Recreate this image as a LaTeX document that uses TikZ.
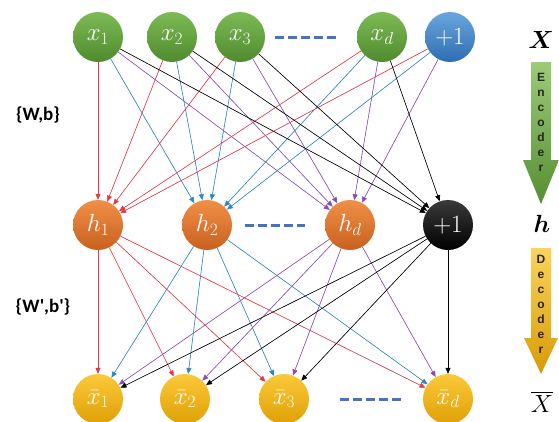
\documentclass[tikz,border=0pt]{standalone}
\usepackage{fontspec}
\usepackage{amsmath,bm}
\usepackage{tikz}
\usetikzlibrary{arrows.meta,positioning}
\newfontfamily\calibrifont{Carlito}
\newfontfamily\arialfont{Liberation Sans}
\definecolor{aered}{HTML}{E23A4A}
\definecolor{aeblue}{HTML}{2F86C4}
\definecolor{aepurple}{HTML}{8A4DB8}
\definecolor{aedash}{HTML}{4472C4}
\definecolor{aegreentop}{HTML}{7DBB55}
\definecolor{aegreenbot}{HTML}{4F8A2E}
\definecolor{aebluetop}{HTML}{6AA6DE}
\definecolor{aebluebot}{HTML}{2E6DB0}
\definecolor{aeorangetop}{HTML}{F09048}
\definecolor{aeorangebot}{HTML}{C8601E}
\definecolor{aeyellowtop}{HTML}{FBC93A}
\definecolor{aeyellowbot}{HTML}{DFA005}
\definecolor{aeblacktop}{HTML}{3A3A3A}
\definecolor{aeblackbot}{HTML}{000000}
\definecolor{aeenctop}{HTML}{9CCB78}
\definecolor{aeencbot}{HTML}{558E33}
\definecolor{aedectop}{HTML}{FBD45A}
\definecolor{aedecbot}{HTML}{D89A06}

\begin{document}
\begin{tikzpicture}[
    x=1pt,
    y=-1pt,
    unit/.style={circle, minimum size=50pt, inner sep=0pt, text=white, font=\fontsize{24}{24}\selectfont},
    innode/.style={unit, top color=aegreentop, bottom color=aegreenbot},
    biasin/.style={unit, top color=aebluetop, bottom color=aebluebot},
    hidnode/.style={unit, top color=aeorangetop, bottom color=aeorangebot},
    biashid/.style={unit, top color=aeblacktop, bottom color=aeblackbot},
    outnode/.style={unit, top color=aeyellowtop, bottom color=aeyellowbot},
    wire/.style={-{Triangle[length=6pt,width=5pt]}, line width=0.6pt},
    dots/.style={aedash, line width=3pt, dash pattern=on 9pt off 4pt},
    layer/.style={font=\fontsize{24}{24}\selectfont},
    param/.style={font=\calibrifont\bfseries\fontsize{19}{19}\selectfont},
    spell/.style={align=center, text=black!85, font=\arialfont\bfseries\fontsize{12}{15}\selectfont}
  ]
    \useasboundingbox (0,0) rectangle (559,421);

    % input layer
    \node[innode] (N-x1) at (98,37) {$x_1$};
    \node[innode] (N-x2) at (172,37) {$x_2$};
    \node[innode] (N-x3) at (240,37) {$x_3$};
    \node[innode] (N-xd) at (382,37) {$x_d$};
    \node[biasin] (N-bx) at (450,37) {$+1$};

    % hidden layer
    \node[hidnode] (N-h1) at (98,225) {$h_1$};
    \node[hidnode] (N-h2) at (207,225) {$h_2$};
    \node[hidnode] (N-hd) at (350,225) {$h_d$};
    \node[biashid] (N-bh) at (448,225) {$+1$};

    % output layer
    \node[outnode] (N-o1) at (98,399) {$\bar{x}_1$};
    \node[outnode] (N-o2) at (185,399) {$\bar{x}_2$};
    \node[outnode] (N-o3) at (284,399) {$\bar{x}_3$};
    \node[outnode] (N-od) at (448,399) {$\bar{x}_d$};

    \draw[dots, shorten <=10pt, shorten >=17pt] (N-x3) -- (N-xd);
    \draw[dots, shorten <=13pt, shorten >=20pt] (N-h2) -- (N-hd);
    \draw[dots, shorten <=31pt, shorten >=20pt] (N-o3) -- (N-od);

    % encoder weights
    \foreach \s in {x1,x2,x3,xd,bx} {
      \foreach \t/\c in {h1/aered,h2/aeblue,hd/aepurple} {
        \draw[wire, draw=\c, fill=\c] (N-\s) -- (N-\t);
      }
    }
    \foreach \s in {x1,x2,x3,xd} {
      \draw[wire, draw=black, fill=black] (N-\s) -- (N-bh);
    }

    % decoder weights
    \foreach \s/\c in {h1/aered,h2/aeblue,hd/aepurple,bh/black} {
      \foreach \t in {o1,o2,o3,od} {
        \draw[wire, draw=\c, fill=\c] (N-\s) -- (N-\t);
      }
    }

    \node[param] (L-enc) at (38,115) {\{W,b\}};
    \node[param] (L-dec) at (43,307) {\{W',b'\}};

    \node[layer] (L-x) at (541,40) {$\bm{X}$};
    \node[layer] (L-h) at (542,224) {$\bm{h}$};
    \node[layer] (L-xbar) at (542,402) {$\overline{X}$};

    % encoder / decoder arrows
    \shade[top color=aeenctop, bottom color=aeencbot] (531,62) -- (551,62) -- (551,160) -- (559,160) -- (541,204) -- (523,160) -- (531,160) -- cycle;
    \shade[top color=aedectop, bottom color=aedecbot] (531,248) -- (551,248) -- (551,338) -- (558,338) -- (541,374) -- (524,338) -- (531,338) -- cycle;

    \node[spell] (T-enc) at (541,122) {E\\n\\c\\o\\d\\e\\r};
    \node[spell] (T-dec) at (541,304) {D\\e\\c\\o\\d\\e\\r};

  \end{tikzpicture}
\end{document}
